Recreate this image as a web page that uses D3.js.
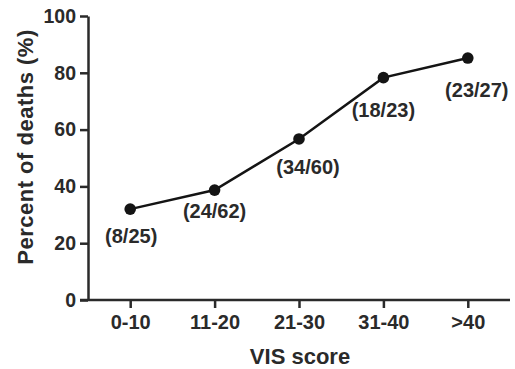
<!DOCTYPE html>
<html>
<head>
<meta charset="utf-8">
<script src="https://cdn.jsdelivr.net/npm/d3@7"></script>
<style>
  body { margin: 0; background: #fff; }
  svg { display: block; font-family: "Liberation Sans", Arial, sans-serif; font-weight: bold; }
</style>
</head>
<body>
<svg id="chart" width="515" height="369"></svg>
<script>
// data
const categories = ["0-10", "11-20", "21-30", "31-40", ">40"]
const percentDeaths = [32.0, 38.7, 56.7, 78.3, 85.2]
const counts = ["(8/25)", "(24/62)", "(34/60)", "(18/23)", "(23/27)"]
const yTicks = [0, 20, 40, 60, 80, 100]

const width = 515, height = 369
const margin = ({top: 16, right: 5, bottom: 69, left: 88})
const ink = "#2a2a2a"

const data = categories.map((c, i) => ({cat: c, value: percentDeaths[i], label: counts[i]}))

const x = d3.scalePoint()
    .domain(categories)
    .range([margin.left, width - margin.right])
    .padding(0.5)

const y = d3.scaleLinear()
    .domain([0, 100])
    .range([height - margin.bottom, margin.top])

const svg = d3.select("#chart")

const xAxis = g => g
    .attr("transform", `translate(0,${height - margin.bottom})`)
    .call(d3.axisBottom(x).tickSizeOuter(0).tickSize(8).tickPadding(7))
    .call(g => g.select(".domain").attr("d", `M${margin.left - 8},0H${width - margin.right}`))
    .attr("font-size", 20)
    .attr("font-family", null)

const yAxis = g => g
    .attr("transform", `translate(${margin.left},0)`)
    .call(d3.axisLeft(y).tickValues(yTicks).tickSize(8).tickSizeOuter(0).tickPadding(4))
    .attr("font-size", 19.5)
    .attr("font-family", null)

svg.append("g").call(xAxis)
svg.append("g").call(yAxis)

svg.selectAll(".domain, .tick line")
    .attr("stroke", ink)
    .attr("stroke-width", 2.5)
svg.selectAll(".tick text").attr("fill", ink)

// line + markers
const line = d3.line()
    .x(d => x(d.cat))
    .y(d => y(d.value))

svg.append("path")
    .datum(data)
    .attr("fill", "none")
    .attr("stroke", "#141414")
    .attr("stroke-width", 2.5)
    .attr("d", line)

svg.append("g")
    .attr("fill", "#141414")
    .selectAll("circle")
    .data(data)
    .join("circle")
    .attr("cx", d => x(d.cat))
    .attr("cy", d => y(d.value))
    .attr("r", 5.8)

// count labels sit under each point, nudged a bit like the original
const nudge = [[1, 27], [0, 21], [9, 28], [0, 32], [9, 32]]
svg.append("g")
    .attr("fill", ink)
    .attr("text-anchor", "middle")
    .attr("font-size", 20)
    .selectAll("text")
    .data(data)
    .join("text")
    .attr("x", (d, i) => x(d.cat) + nudge[i][0])
    .attr("y", (d, i) => y(d.value) + nudge[i][1])
    .attr("dy", "0.35em")
    .text(d => d.label)

// axis titles
svg.append("text")
    .attr("x", 300)
    .attr("y", 364)
    .attr("text-anchor", "middle")
    .attr("font-size", 22)
    .attr("fill", ink)
    .text("VIS score")

svg.append("text")
    .attr("transform", `translate(25,${147}) rotate(-90)`)
    .attr("dy", "0.35em")
    .attr("text-anchor", "middle")
    .attr("font-size", 22)
    .attr("letter-spacing", 0.5)
    .attr("fill", ink)
    .text("Percent of deaths (%)")
</script>
</body>
</html>
